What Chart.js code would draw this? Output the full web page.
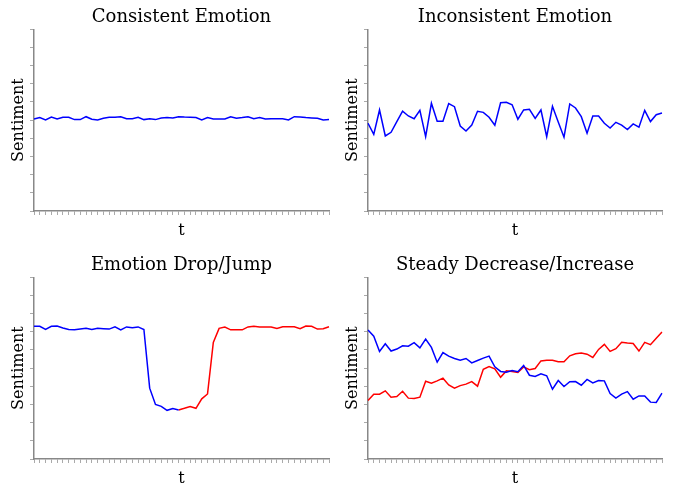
<!DOCTYPE html>
<html>
<head>
<meta charset="utf-8">
<script src="https://cdn.jsdelivr.net/npm/chart.js@4"></script>
<style>
  body { margin: 0; background: #fff; }
  #wrap { position: relative; width: 673px; height: 490px; }
  .panel { position: absolute; }
</style>
</head>
<body>
<div id="wrap">
  <div class="panel" style="left:0;top:0;width:336px;height:245px"><canvas id="c1"></canvas></div>
  <div class="panel" style="left:336px;top:0;width:337px;height:245px"><canvas id="c2"></canvas></div>
  <div class="panel" style="left:0;top:245px;width:336px;height:245px"><canvas id="c3"></canvas></div>
  <div class="panel" style="left:336px;top:245px;width:337px;height:245px"><canvas id="c4"></canvas></div>
</div>
<script>
// ---- data (52 time steps) ----
const timeSteps = Array.from({ length: 52 }, (_, i) => i);

const consistentValues = [
  0.506, 0.514, 0.501, 0.517, 0.506, 0.516, 0.516, 0.503, 0.503, 0.519,
  0.505, 0.501, 0.510, 0.516, 0.516, 0.519, 0.508, 0.508, 0.516, 0.503,
  0.508, 0.503, 0.512, 0.514, 0.512, 0.519, 0.517, 0.516, 0.514, 0.501,
  0.514, 0.506, 0.506, 0.506, 0.519, 0.510, 0.514, 0.519, 0.508, 0.514,
  0.506, 0.508, 0.508, 0.508, 0.501, 0.519, 0.517, 0.514, 0.512, 0.510,
  0.501, 0.503
];

const inconsistentValues = [
  0.483, 0.422, 0.556, 0.413, 0.433, 0.492, 0.549, 0.523, 0.508, 0.554,
  0.409, 0.593, 0.494, 0.494, 0.591, 0.574, 0.468, 0.440, 0.473, 0.549,
  0.543, 0.516, 0.472, 0.596, 0.598, 0.585, 0.505, 0.556, 0.560, 0.510,
  0.556, 0.409, 0.576, 0.490, 0.406, 0.589, 0.567, 0.519, 0.428, 0.523,
  0.523, 0.483, 0.457, 0.488, 0.473, 0.448, 0.479, 0.461, 0.554, 0.492,
  0.530, 0.539
];

// drop: t = 0..25 (blue), jump: t = 25..51 (red)
const dropValues = [
  0.730, 0.730, 0.713, 0.730, 0.732, 0.721, 0.713, 0.711, 0.715, 0.719,
  0.713, 0.719, 0.717, 0.715, 0.727, 0.711, 0.727, 0.723, 0.727, 0.713,
  0.390, 0.300, 0.290, 0.268, 0.278, 0.270
];
const jumpValues = [
  0.270, 0.279, 0.289, 0.279, 0.331, 0.358, 0.642, 0.719, 0.726, 0.711,
  0.711, 0.711, 0.727, 0.730, 0.727, 0.727, 0.727, 0.719, 0.728, 0.728,
  0.728, 0.717, 0.732, 0.730, 0.715, 0.717, 0.728
];

const decreaseValues = [
  0.710, 0.676, 0.592, 0.634, 0.594, 0.605, 0.623, 0.621, 0.640, 0.612,
  0.660, 0.614, 0.533, 0.586, 0.566, 0.553, 0.544, 0.553, 0.529, 0.542,
  0.555, 0.566, 0.507, 0.482, 0.478, 0.487, 0.480, 0.515, 0.461, 0.454,
  0.469, 0.458, 0.384, 0.432, 0.399, 0.425, 0.426, 0.406, 0.438, 0.419,
  0.432, 0.430, 0.360, 0.335, 0.357, 0.371, 0.329, 0.347, 0.347, 0.313,
  0.311, 0.362
];
const increaseValues = [
  0.322, 0.357, 0.357, 0.375, 0.340, 0.344, 0.373, 0.335, 0.333, 0.340,
  0.428, 0.417, 0.430, 0.445, 0.408, 0.390, 0.404, 0.412, 0.426, 0.401,
  0.494, 0.509, 0.496, 0.450, 0.485, 0.482, 0.476, 0.507, 0.491, 0.498,
  0.540, 0.544, 0.544, 0.535, 0.535, 0.568, 0.579, 0.583, 0.577, 0.559,
  0.603, 0.631, 0.592, 0.607, 0.642, 0.638, 0.636, 0.594, 0.642, 0.629,
  0.665, 0.699
];

// ---- styling ----
const SERIF = "'DejaVu Serif', 'Liberation Serif', serif";
const BLUE = '#0000ff';
const RED = '#ff0000';

function line(data, color) {
    return {
        data: data,
        borderColor: color,
        borderWidth: 1.5,
        pointRadius: 0,
        tension: 0,
        fill: false
    };
}

function makePanel(id, title, datasets, padding) {
    const ctx = document.getElementById(id).getContext('2d');
    return new Chart(ctx, {
        type: 'line',
        data: { labels: timeSteps, datasets: datasets },
        options: {
            responsive: true,
            maintainAspectRatio: false,
            animation: false,
            layout: { padding: padding },
            plugins: {
                legend: { display: false },
                tooltip: { enabled: false },
                title: {
                    display: true,
                    text: title,
                    fullSize: false,
                    color: '#000',
                    font: { family: SERIF, size: 18, weight: 'normal' },
                    padding: { top: 6.7, bottom: 1 }
                }
            },
            scales: {
                x: {
                    type: 'category',
                    offset: false,
                    ticks: { display: false, autoSkip: false },
                    grid: { display: true, drawOnChartArea: false, drawTicks: true, tickLength: 4, color: '#aaaaaa', lineWidth: 1 },
                    border: { color: '#888888', width: 1.5 },
                    title: {
                        display: true, text: 't', color: '#000',
                        font: { family: SERIF, size: 16 },
                        padding: { top: 6.4, bottom: 1.4 }
                    }
                },
                y: {
                    min: 0,
                    max: 1,
                    ticks: { display: false, stepSize: 0.1 },
                    grid: { display: true, drawOnChartArea: false, drawTicks: true, tickLength: 4, color: '#aaaaaa', lineWidth: 1 },
                    border: { color: '#888888', width: 1.5 },
                    title: {
                        display: true, text: 'Sentiment', color: '#000',
                        font: { family: SERIF, size: 16 },
                        padding: { top: 4, bottom: 2 }
                    }
                }
            }
        }
    });
}

const dropSeries = dropValues.concat(Array(timeSteps.length - dropValues.length).fill(null));
const jumpSeries = Array(timeSteps.length - jumpValues.length).fill(null).concat(jumpValues);

makePanel('c1', 'Consistent Emotion', [line(consistentValues, BLUE)],
    { left: 4.8, right: 7, top: 0, bottom: 3 });
makePanel('c2', 'Inconsistent Emotion', [line(inconsistentValues, BLUE)],
    { left: 2.8, right: 11, top: 0, bottom: 3 });
makePanel('c3', 'Emotion Drop/Jump', [line(dropSeries, BLUE), line(jumpSeries, RED)],
    { left: 4.8, right: 7, top: 3, bottom: 0 });
makePanel('c4', 'Steady Decrease/Increase', [line(decreaseValues, BLUE), line(increaseValues, RED)],
    { left: 2.8, right: 11, top: 3, bottom: 0 });
</script>
</body>
</html>
